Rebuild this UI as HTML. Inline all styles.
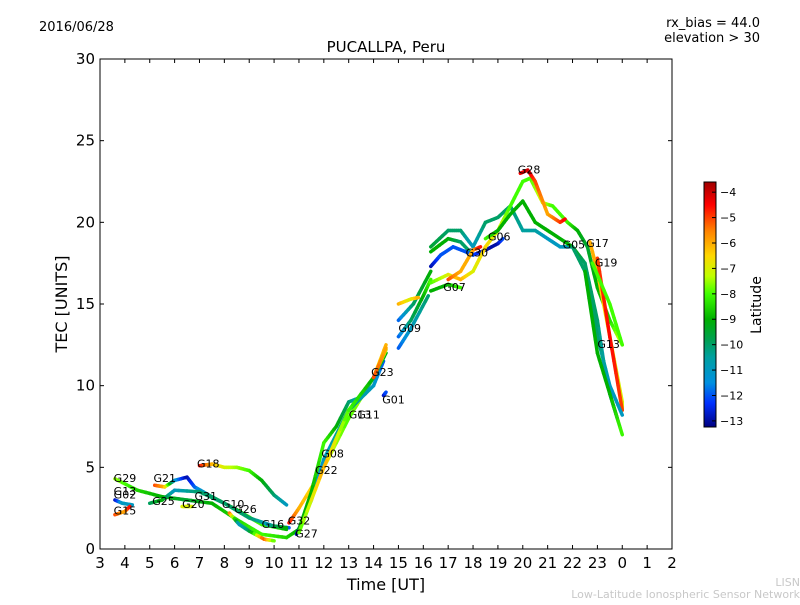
<!DOCTYPE html>
<html><head><meta charset="utf-8"><style>
body{margin:0;background:#fff;width:800px;height:600px;overflow:hidden;font-family:"Liberation Sans",sans-serif}
svg text{font-family:"DejaVu Sans","Liberation Sans",sans-serif}
</style></head><body>
<svg id="chart" width="800" height="600" xmlns="http://www.w3.org/2000/svg">
<defs><linearGradient id="cb" x1="0" y1="1" x2="0" y2="0"></linearGradient></defs>
<text x="39" y="31" font-size="13">2016/06/28</text>
<text x="760" y="27" font-size="13" text-anchor="end">rx_bias = 44.0</text>
<text x="760" y="42" font-size="13" text-anchor="end">elevation &gt; 30</text>
<text x="386" y="52" font-size="15" text-anchor="middle">PUCALLPA, Peru</text>
<g id="marks"></g>
<g id="axes"></g>
<rect x="100" y="59" width="572" height="490" fill="none" stroke="#000" stroke-width="1"/>
<text x="386" y="590" font-size="16" text-anchor="middle">Time [UT]</text>
<text transform="translate(67,304) rotate(-90)" font-size="16" text-anchor="middle">TEC [UNITS]</text>
<g id="cbar"></g>
<text transform="translate(761,305) rotate(-90)" font-size="14" text-anchor="middle">Latitude</text>
<text x="800" y="586" font-size="11" fill="#c8c8c8" text-anchor="end">LISN</text>
<text x="800" y="598" font-size="11" fill="#c8c8c8" text-anchor="end">Low-Latitude Ionospheric Sensor Network</text>
</svg>
<script>
const xTicks=[3,4,5,6,7,8,9,10,11,12,13,14,15,16,17,18,19,20,21,22,23,24,25,26];
const xTickLabels=["3","4","5","6","7","8","9","10","11","12","13","14","15","16","17","18","19","20","21","22","23","0","1","2"];
const yTicks=[0,5,10,15,20,25,30];
const cbTicks=[-4,-5,-6,-7,-8,-9,-10,-11,-12,-13];
// tracks: [time(h), TEC, latitude]
const trackG29=[[3.6,4.3,-7.5],[4.5,3.6,-8.5],[5.5,3.2,-9],[6.5,3.0,-9.5],[7.5,2.8,-9],[8.5,1.8,-8.5],[9.5,0.9,-8],[10.5,0.7,-8.5],[11,1.2,-9]];
const trackG18=[[7,5.1,-4.5],[7.5,5.2,-6],[8,5.0,-7],[8.5,5.0,-7.5],[9,4.8,-8],[9.5,4.2,-9],[10,3.3,-10],[10.5,2.7,-11]];
const trackG21=[[5.2,3.9,-5],[5.6,3.8,-6],[6,4.2,-11],[6.5,4.4,-13],[6.8,3.8,-12],[7.5,3.2,-10],[8.5,2.4,-9],[9.5,1.5,-8],[10.5,1.2,-9]];
const trackG25=[[5,2.8,-10],[5.5,3.0,-9],[6,3.6,-11],[7,3.5,-10],[8,2.8,-10],[9,1.9,-10],[10,1.4,-11],[10.6,1.3,-12]];
const trackG20=[[6.3,2.6,-7],[6.7,2.6,-7]];
const trackG10=[[8.2,2.2,-5],[8.6,1.5,-11],[9,1.1,-10],[9.6,0.6,-5],[10,0.5,-8]];
const trackG16=[[9.7,1.5,-11],[10,1.4,-10],[10.5,1.3,-9]];
const trackG02=[[3.6,3.0,-13],[3.9,2.8,-11],[4.3,2.7,-11]];
const trackG15=[[3.6,2.1,-5],[4,2.3,-6],[4.2,2.6,-4.5]];
const trackG32=[[10.6,1.6,-4.5],[11,2.5,-6],[12,5,-7],[13,8,-8],[14,10.5,-7],[14.5,12.5,-6]];
const trackG27=[[10.9,0.9,-13],[11.5,3,-12],[12,5.5,-11],[13,8.5,-10],[14,10,-11],[14.4,11.5,-12]];
const trackG08=[[11,1.2,-9],[11.5,3.5,-9],[12,6.5,-8],[12.5,7.5,-9],[13,9,-10],[13.5,9.3,-11],[14,10.5,-10],[14.5,12,-9]];
const trackG22=[[11,1,-8],[12,5,-6],[13,8.5,-8],[14,10.5,-9],[14.5,12.2,-7]];
const trackG23=[[14,10.5,-5],[14.5,12.3,-6]];
const trackG01=[[14.4,9.4,-13],[14.5,9.6,-12]];
const trackG09a=[[15,13,-12],[15.5,14,-10],[16,15.5,-9],[16.3,16.5,-8]];
const trackG09b=[[15,14,-12],[15.6,15,-10],[16.3,17,-9]];
const trackG09c=[[15,15,-6],[15.5,15.3,-7],[15.8,15.4,-6]];
const trackG09d=[[15,12.3,-12],[15.5,13.5,-11],[16.2,15.5,-10]];
const trackG05=[[16.3,18.5,-9.5],[17,19.5,-10],[17.5,19.5,-10],[18,18.5,-11],[18.5,20,-10],[19,20.3,-10],[19.5,21,-10],[20,19.5,-10.5],[20.5,19.5,-10.5],[21,19,-11],[21.5,18.5,-11],[22,18.5,-11]];
const trackG24=[[16.3,18.2,-9],[17,19,-9],[17.5,18.8,-10],[18,18,-10]];
const trackG12=[[16.3,17.3,-13],[16.7,18,-12],[17.2,18.5,-12],[17.7,18.2,-12],[18,18,-12],[18.5,18.3,-13],[19,18.7,-13],[19.2,19,-12]];
const trackG14=[[16.3,16.3,-8],[17,16.8,-7],[17.5,16.5,-6],[18,17,-7],[18.5,18.5,-6.5],[19,19.5,-7],[19.5,21,-8],[20,22.5,-8],[20.3,22.7,-8],[20.8,21.2,-7],[21.2,21,-8],[21.8,20,-8],[22.2,19.5,-9],[22.6,18.5,-9.5],[23,16,-9],[23.5,14,-8.5],[24,12.5,-7]];
const trackG28=[[19.9,23,-4.5],[20.2,23.2,-4],[20.5,22.5,-5],[21,20.5,-6],[21.5,20,-5],[21.7,20.2,-4.5]];
const trackG07=[[16.3,15.8,-9],[17,16.2,-9],[17.5,16,-8]];
const trackG30=[[17,16.5,-5],[17.5,17,-6],[18,18.3,-6],[18.3,18.5,-4.5]];
const trackG06=[[18.5,19,-8],[19,19.5,-9],[19.5,20.5,-9],[20,21.3,-9],[20.5,20,-9],[21,19.5,-9],[21.5,19,-9],[22,18.5,-9],[22.5,17.5,-10],[23,14,-10],[23.3,11,-11],[23.5,9.5,-12],[23.8,8,-13]];
const trackG17=[[22.7,18.8,-6],[23,17,-6],[23.5,13,-7],[24,9,-7],[24,8.5,-7]];
const trackG19=[[23,17.8,-5],[23.5,13,-4.5],[24,8.5,-5]];
const trackG13=[[22.8,17.5,-8],[23.5,15,-8],[24,12.5,-8]];
const trackG03=[[22,18.5,-10],[22.5,17,-10],[23,13,-10],[23.5,10,-11],[24,8.2,-11]];
const trackG04=[[22.5,17,-9],[23,12,-9],[23.5,9.5,-9],[24,7,-8]];
const tracks=[trackG29,trackG18,trackG21,trackG25,trackG20,trackG10,trackG16,trackG02,trackG15,trackG32,trackG27,trackG08,trackG22,trackG23,trackG01,trackG09a,trackG09b,trackG09c,trackG09d,trackG05,trackG24,trackG12,trackG14,trackG28,trackG07,trackG30,trackG06,trackG17,trackG19,trackG13,trackG03,trackG04];
const labelNames=["G29","G02","G13","G15","G21","G25","G18","G31","G20","G10","G26","G16","G32","G27","G08","G22","G23","G01","G13","G11","G09","G07","G30","G06","G28","G05","G17","G19","G13"];
const labelT=[3.55,3.55,3.55,3.55,5.15,5.1,6.9,6.8,6.3,7.9,8.4,9.5,10.55,10.85,11.9,11.65,13.9,14.35,13.0,13.35,15.0,16.8,17.7,18.6,19.8,21.6,22.55,22.9,23.0];
const labelV=[4.1,3.1,3.3,2.1,4.1,2.7,5.0,3.0,2.5,2.5,2.2,1.3,1.5,0.7,5.6,4.6,10.6,8.9,8.0,8.0,13.3,15.8,17.9,18.9,23.0,18.4,18.5,17.3,12.3];
const SVGNS="http://www.w3.org/2000/svg";
const X=t=>100+(t-3)*572/23, Y=v=>549-v*490/30;
const cbTop=182,cbBot=427,latTop=-3.6,latBot=-13.24;
const CY=l=>cbTop+(latTop-l)/(latTop-latBot)*(cbBot-cbTop);
const stops=[[-3.6,[160,0,0]],[-4.5,[255,0,0]],[-5.5,[255,128,0]],[-6.5,[255,215,0]],[-7.3,[192,255,0]],[-8,[64,255,0]],[-9,[0,176,0]],[-9.8,[0,160,80]],[-10.5,[0,160,160]],[-11.5,[0,144,224]],[-12.3,[0,48,255]],[-13.3,[0,0,128]]];
function col(l){if(l>=stops[0][0])return rgb(stops[0][1]);for(let i=1;i<stops.length;i++){if(l>=stops[i][0]){const a=stops[i-1],b=stops[i],f=(a[0]-l)/(a[0]-b[0]);return rgb(a[1].map((c,k)=>c+(b[1][k]-c)*f));}}return rgb(stops[stops.length-1][1]);}
function rgb(c){return "rgb("+c.map(Math.round).join(",")+")";}
function mk(tag,at,parent){const e=document.createElementNS(SVGNS,tag);for(const k in at)e.setAttribute(k,at[k]);parent.appendChild(e);return e;}
const marks=document.getElementById("marks"),axes=document.getElementById("axes"),cbar=document.getElementById("cbar");
tracks.forEach(tr=>{
  for(let i=0;i<tr.length-1;i++){
    const a=tr[i],b=tr[i+1],n=6;
    for(let j=0;j<n;j++){
      const f0=j/n,f1=(j+1)/n;
      const seg=mk("line",{x1:X(a[0]+(b[0]-a[0])*f0),y1:Y(a[1]+(b[1]-a[1])*f0),x2:X(a[0]+(b[0]-a[0])*f1),y2:Y(a[1]+(b[1]-a[1])*f1),stroke:col(a[2]+(b[2]-a[2])*(f0+f1)/2),"stroke-width":3.5,"stroke-linecap":"round"},marks);
      
      
    }
  }
});
labelNames.forEach((n,i)=>{
  const t=mk("text",{x:X(labelT[i]),y:Y(labelV[i]),"font-size":11},marks);t.textContent=n;
  
  
});
xTicks.forEach((v,i)=>{
  const x=X(v);
  mk("line",{x1:x,y1:549,x2:x,y2:545,stroke:"#000"},axes);
  mk("line",{x1:x,y1:59,x2:x,y2:63,stroke:"#000"},axes);
  const t=mk("text",{x:x,y:568,"font-size":15,"text-anchor":"middle"},axes);t.textContent=xTickLabels[i];
  
  
});
yTicks.forEach(v=>{
  const y=Y(v);
  mk("line",{x1:100,y1:y,x2:104,y2:y,stroke:"#000"},axes);
  mk("line",{x1:672,y1:y,x2:668,y2:y,stroke:"#000"},axes);
  const t=mk("text",{x:95,y:y+5,"font-size":15,"text-anchor":"end"},axes);t.textContent=v;
  
  
});
const g=document.getElementById("cb");
stops.slice().reverse().forEach(s=>{mk("stop",{offset:Math.max(0,Math.min(1,(s[0]-latBot)/(latTop-latBot))),"stop-color":rgb(s[1])},g);});
mk("rect",{x:704,y:cbTop,width:12,height:cbBot-cbTop,fill:"url(#cb)",stroke:"#000","stroke-width":1},cbar);
cbTicks.forEach(v=>{
  const y=CY(v);
  mk("line",{x1:712,y1:y,x2:716,y2:y,stroke:"#000"},cbar);
  const t=mk("text",{x:720,y:y+4,"font-size":11},cbar);t.textContent="\u2212"+Math.abs(v);
  
  
});
</script>
</body></html>
